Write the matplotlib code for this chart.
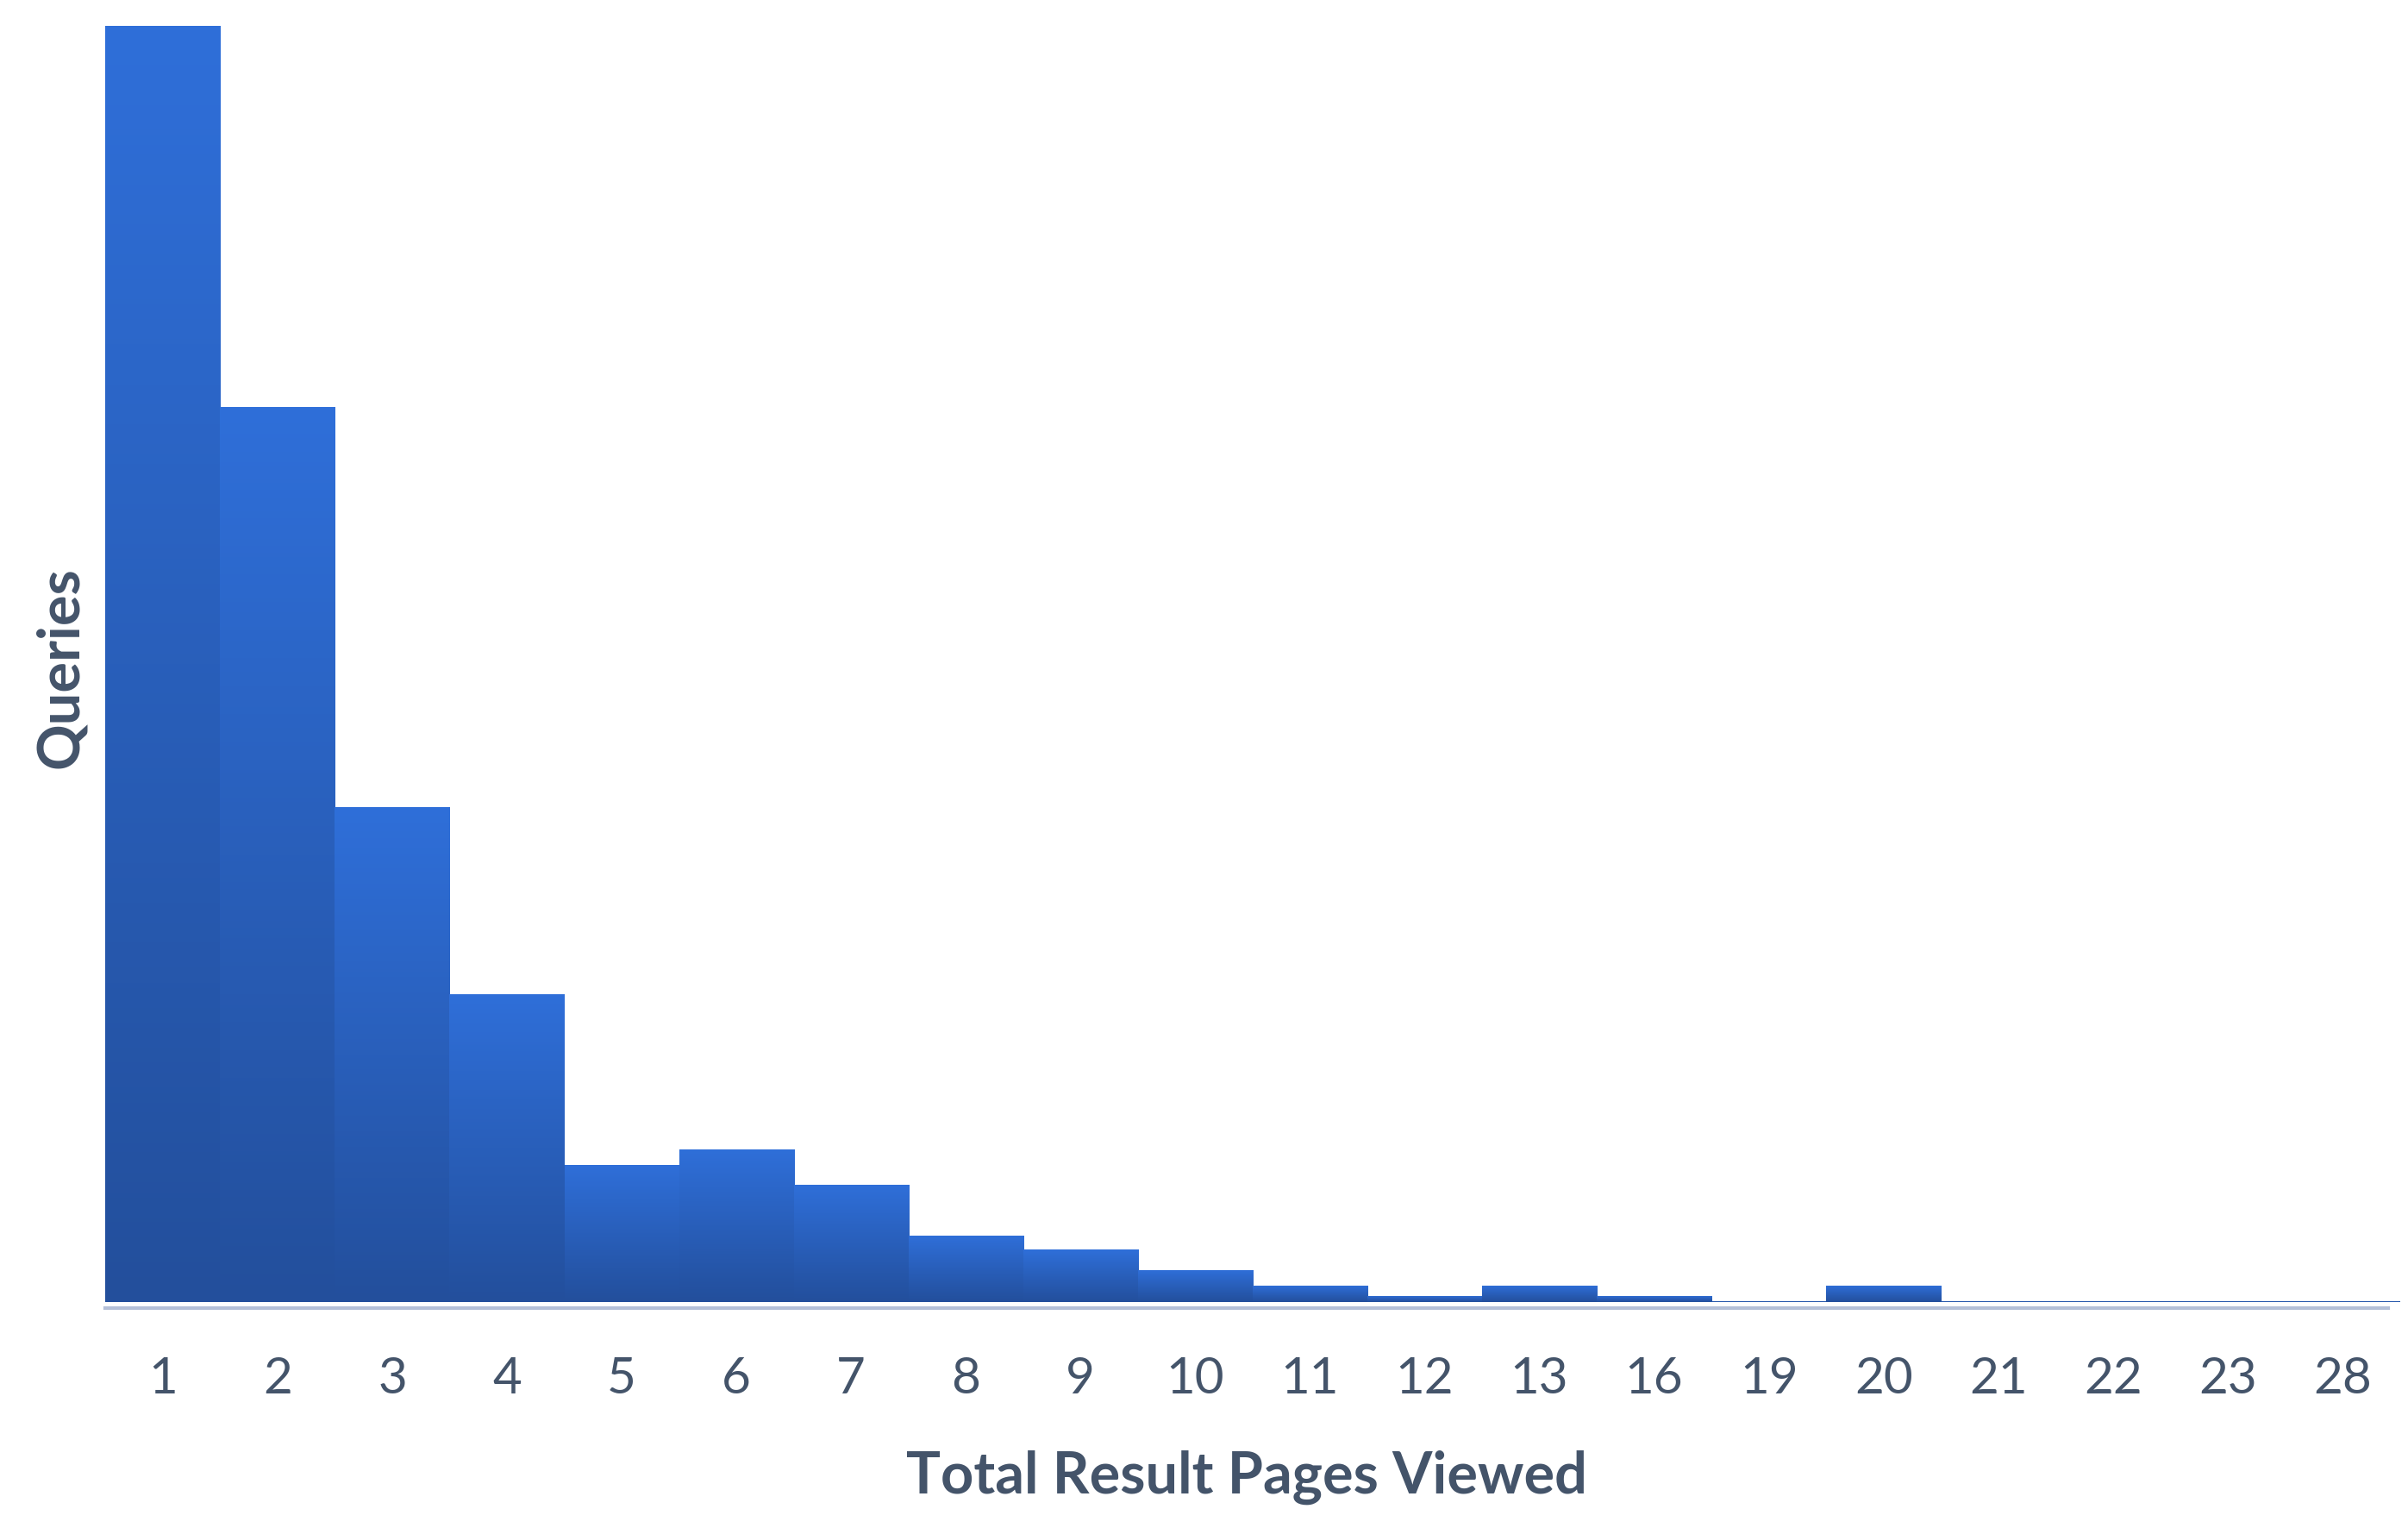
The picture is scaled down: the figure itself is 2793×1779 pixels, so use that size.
import numpy as np
import matplotlib
matplotlib.use("Agg")
from matplotlib import pyplot as plt
from matplotlib.colors import LinearSegmentedColormap

# pages viewed per query and query counts (relative)
pages = ["1", "2", "3", "4", "5", "6", "7", "8", "9", "10",
         "11", "12", "13", "16", "19", "20", "21", "22", "23", "28"]
queries = [825, 579, 320, 199, 89, 99, 76, 43, 34, 21,
           11, 4, 11, 4, 1, 11, 0.6, 0.6, 0.6, 0.6]

txt_col = "#44546a"
plt.rcParams['font.family'] = ['Lato', 'DejaVu Sans']

fig = plt.figure(figsize=(27.93, 17.79), dpi=100)
ax = fig.add_axes([0.0438, 0.147, 0.948, 0.836])

cmap = LinearSegmentedColormap.from_list("bar", ["#234f9c", "#2f6fd9"])
grad = np.linspace(0, 1, 256).reshape(-1, 1)
x = np.arange(len(pages))
bars = ax.bar(x, queries, width=1.0, color="none", edgecolor="none")
for b in bars:
    x0, y0 = b.get_x(), b.get_y()
    w, h = b.get_width(), b.get_height()
    im = ax.imshow(grad, cmap=cmap, aspect="auto", origin="lower",
                   extent=[x0, x0 + w, y0, y0 + h], zorder=2)
    im.set_clip_path(b)

ax.set_xlim(-0.5, 19.4)
ax.set_ylim(-4, 825)
for s in ["top", "right", "left"]:
    ax.spines[s].set_visible(False)
ax.spines["bottom"].set_color("#b4c0d8")
ax.spines["bottom"].set_linewidth(3)
ax.set_yticks([])
ax.set_xticks(x)
ax.set_xticklabels(pages, fontsize=42, color=txt_col)
ax.tick_params(axis="x", length=0, pad=40)
ax.set_xlabel("Total Result Pages Viewed", fontsize=48, fontweight="bold",
              color=txt_col, labelpad=40)
ax.set_ylabel("Queries", fontsize=48, fontweight="bold", color=txt_col,
              labelpad=15)

fig.savefig("out.png", dpi=100)
